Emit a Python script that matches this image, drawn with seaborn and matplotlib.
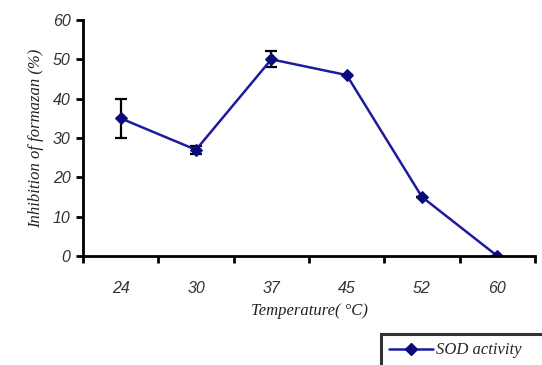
import matplotlib
matplotlib.use("Agg")
import matplotlib.pyplot as plt
import seaborn as sns
import numpy as np
import pandas as pd
from matplotlib.lines import Line2D

temps = ["24", "30", "37", "45", "52", "60"]
inhibition = [35, 27, 50, 46, 15, 0]
errors = [5, 1, 2, 0, 0, 0]
series_name = "SOD activity"

sns.set_theme(style="white")
plt.rcParams["font.family"] = ["Liberation Serif", "DejaVu Sans"]

df = pd.DataFrame({"pos": np.arange(len(temps)), "temp": temps, "val": inhibition, "err": errors})

fig = plt.figure(figsize=(5.42, 3.65), dpi=100)
ax = fig.add_axes([83/542, 1-256/365, (535-83)/542, (256-20)/365])

line_color = "#1c1c9c"
mk_color = "#0a0a7a"
sns.lineplot(data=df, x="pos", y="val", ax=ax, color=line_color, lw=1.8,
             marker="D", markersize=6, markerfacecolor=mk_color,
             markeredgecolor=mk_color, legend=False)
ax.errorbar(df["pos"], df["val"], yerr=df["err"], fmt="none", ecolor="black",
            elinewidth=1.6, capsize=4, capthick=1.6, zorder=1)

ax.set_xlim(-0.5, len(temps)-0.5)
ax.set_ylim(0, 60)
ax.set_yticks(range(0, 61, 10))
ax.set_xticks(df["pos"])
ax.set_xticklabels(temps)
ax.set_xticks(np.arange(-0.5, len(temps), 1.0), minor=True)
ax.tick_params(axis="x", which="major", length=0, pad=18)
ax.tick_params(axis="x", which="minor", length=5, width=2, direction="out", color="black", bottom=True)
ax.tick_params(axis="y", which="major", length=5, width=2, direction="out", color="black", left=True, pad=4)
for lab in ax.get_xticklabels() + ax.get_yticklabels():
    lab.set_fontstyle("italic")
    lab.set_fontsize(11.5)
    lab.set_color("#333333")
    lab.set_family(["Liberation Sans", "DejaVu Sans"])

for s in ["top", "right"]:
    ax.spines[s].set_visible(False)
for s in ["left", "bottom"]:
    ax.spines[s].set_color("black")
    ax.spines[s].set_linewidth(2)

ax.set_xlabel("Temperature( °C)", fontsize=12, fontstyle="italic", color="#222222", labelpad=5)
ax.set_ylabel("Inhibition of formazan (%)", fontsize=12, fontstyle="italic", color="#222222", labelpad=6)

h = Line2D([], [], color=line_color, lw=1.8, marker="D", markersize=6,
           markerfacecolor=mk_color, markeredgecolor=mk_color)
top = 1 - 334/365
leg = fig.legend([h], [series_name], loc="upper left", mode="expand",
                 bbox_to_anchor=(381/542, top - 0.1, 175/542, 0.1), borderaxespad=0,
                 frameon=True, fancybox=False,
                 prop={"style": "italic", "size": 12}, borderpad=0.5, handlelength=2.6,
                 handletextpad=0.2)
leg.get_frame().set_edgecolor("black")
leg.get_frame().set_linewidth(2.2)

fig.savefig("out.png", dpi=100)
